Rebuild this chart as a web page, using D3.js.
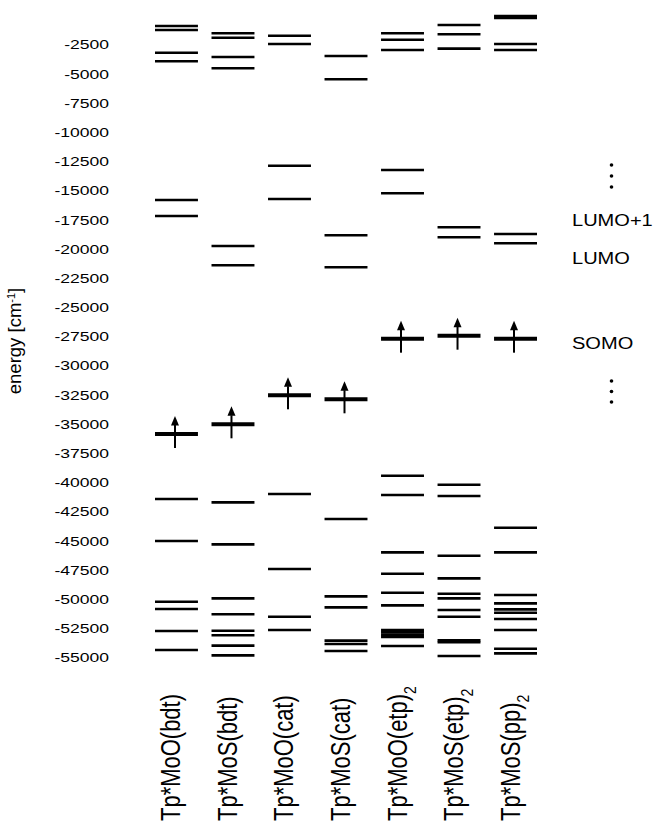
<!DOCTYPE html>
<html>
<head>
<meta charset="utf-8">
<script src="https://cdn.jsdelivr.net/npm/d3@7"></script>
<style>
  body { margin: 0; background: #fff; }
  text { font-family: "Liberation Sans", Arial, sans-serif; fill: #000; }
</style>
</head>
<body>
<svg id="chart" width="656" height="826"></svg>
<script>
var categories = ["Tp*MoO(bdt)", "Tp*MoS(bdt)", "Tp*MoO(cat)", "Tp*MoS(cat)", "Tp*MoO(etp)_2", "Tp*MoS(etp)_2", "Tp*MoS(pp)_2"]

// orbital energies in cm-1, one list per complex (SOMO kept apart)
var mooBdt = [-959, -1301, -3245, -3982, -15861, -17231, -41469, -45066, -50265, -50890, -52774, -54401]
var mosBdt = [-1584, -1960, -3613, -4581, -19800, -21453, -41754, -45352, -49975, -51345, -52746, -53143, -54030, -54859]
var mooCat = [-1789, -2500, -12923, -15775, -41040, -47465, -51548, -52688]
var mosCat = [-3528, -5525, -18884, -21624, -43183, -49804, -50746, -53600, -53886, -54486]
var mooEtp = [-1584, -2130, -3014, -13291, -15288, -39473, -41126, -46037, -47867, -49494, -50575, -52688, -52890, -53090, -53289, -54060]
var mosEtp = [-873, -1670, -2900, -18198, -19054, -40244, -41212, -46325, -48262, -49580, -49975, -50976, -51548, -53571, -53743, -54916]
var mosPp = [-100, -260, -2500, -3014, -18772, -19570, -43928, -46037, -49689, -50404, -50918, -51205, -51745, -52688, -54288, -54688]
var somo = [-35903, -35071, -32587, -32930, -27738, -27481, -27738]

var tickVals = d3.range(-2500, -55001, -2500)

var levels = [mooBdt, mosBdt, mooCat, mosCat, mooEtp, mosEtp, mosPp]

var svg = d3.select("#chart")

var x = d3.scaleBand()
  .domain(categories)
  .range([155, 537])
  .paddingInner(0.24)
  .paddingOuter(0)

var y = d3.scaleLinear()
  .domain([-2500, -55000])
  .range([44, 657])

// y axis: labels only
var axis = svg.append("g")
  .attr("transform", "translate(109,0)")
  .call(d3.axisLeft(y).tickValues(tickVals).tickSize(0).tickPadding(0).tickFormat(d => String(d)))
axis.select(".domain").remove()
axis.selectAll("text")
  .attr("dy", "0.36em")
  .attr("transform", "scale(1.3,1)")
  .style("font-size", "13.5px")
  .style("font-family", '"Liberation Sans", Arial, sans-serif')

var title = svg.append("text")
  .attr("transform", "translate(21,341) rotate(-90)")
  .attr("text-anchor", "middle")
  .style("font-size", "18.5px")
title.append("tspan").text("energy [cm")
title.append("tspan").attr("baseline-shift", "super").style("font-size", "11px").text("-1")
title.append("tspan").text("]")

// energy levels
categories.forEach(function(c, i){
  svg.append("g")
    .selectAll("line")
    .data(levels[i])
    .enter()
    .append("line")
      .attr("x1", x(c))
      .attr("x2", x(c) + x.bandwidth())
      .attr("y1", d => y(d))
      .attr("y2", d => y(d))
      .attr("stroke", "#000")
      .attr("stroke-width", 2.6)
})

// SOMO with spin-up arrow
var somoG = svg.append("g")
  .selectAll("g")
  .data(categories)
  .enter()
  .append("g")
    .attr("transform", (c, i) => `translate(${x(c)},${y(somo[i])})`)

somoG.append("line")
  .attr("x1", 0).attr("x2", x.bandwidth())
  .attr("stroke", "#000").attr("stroke-width", 4)

var ax = x.bandwidth() / 2 - 1.5
somoG.append("line")
  .attr("x1", ax).attr("x2", ax)
  .attr("y1", 14).attr("y2", -9)
  .attr("stroke", "#000").attr("stroke-width", 2)
somoG.append("path")
  .attr("d", `M${ax - 4},-8.5 L${ax + 4},-8.5 L${ax},-18 Z`)
  .attr("fill", "#000")

// category labels
categories.forEach(function(c){
  var parts = c.split("_")
  var cx = x(c) + x.bandwidth() / 2 + 4
  var t = svg.append("text")
    .attr("transform", `translate(${cx},821) scale(1.22,1) rotate(-90)`)
    .style("font-size", "22px")
    .text(parts[0])
  if(parts[1]){
    t.append("tspan")
      .attr("baseline-shift", "sub")
      .style("font-size", "14px")
      .text(parts[1])
  }
})

// orbital annotations on the right
var notes = [["LUMO+1", 226], ["LUMO", 264], ["SOMO", 349]]
notes.forEach(function(n){
  svg.append("text")
    .attr("transform", `translate(572,${n[1]}) scale(1.18,1)`)
    .style("font-size", "17px")
    .text(n[0])
})
var dots = [165, 176, 187, 381, 391.5, 402]
svg.selectAll("circle")
  .data(dots)
  .enter()
  .append("circle")
    .attr("cx", 611.5)
    .attr("cy", d => d)
    .attr("r", 1.8)
    .attr("fill", "#000")
</script>
</body>
</html>
